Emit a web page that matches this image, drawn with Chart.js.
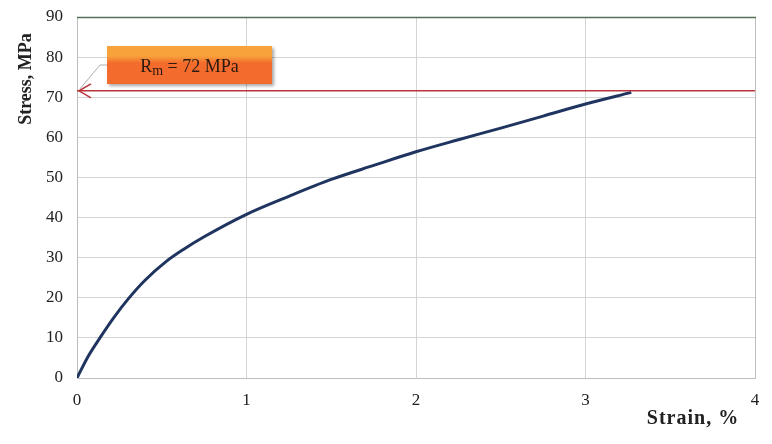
<!DOCTYPE html>
<html>
<head>
<meta charset="utf-8">
<script src="https://cdn.jsdelivr.net/npm/chart.js@4.4.1/dist/chart.umd.min.js"></script>
<style>
  html, body { margin: 0; padding: 0; background: #fff; }
  #wrap { width: 772px; height: 444px; position: relative; }
</style>
</head>
<body>
<div id="wrap"><canvas id="stressChart"></canvas></div>
<script>
// strain (%) and stress (MPa)
const strain = [0, 0.063, 0.14, 0.216, 0.3, 0.4, 0.525, 0.63, 0.75, 1.0, 1.25, 1.5, 1.75, 2.0, 2.25, 2.5, 2.75, 3.0, 3.27];
const stress = [0, 5.2, 10.3, 15, 19.6, 24.3, 29.0, 32.1, 35.2, 40.8, 45.3, 49.5, 53, 56.4, 59.4, 62.3, 65.3, 68.3, 71.2];
const xTicks = [0, 1, 2, 3, 4];
const yTicks = [0, 10, 20, 30, 40, 50, 60, 70, 80, 90];
const rmValue = 71.6;
const rmLabel = ['R', 'm', ' = 72 MPa'];
const xTitle = 'Strain, %';
const yTitle = 'Stress, MPa';

const serif = "'Liberation Serif', 'Times New Roman', serif";

const curve = strain.map((s, i) => ({ x: s, y: stress[i] }));
const rmLine = [{ x: xTicks[0], y: rmValue }, { x: xTicks[xTicks.length - 1], y: rmValue }];

// callout box, leader line and arrow for Rm
const rmNote = {
    id: 'rmNote',
    afterDatasetsDraw(chart) {
        const c = chart.ctx;
        const xs = chart.scales.x, ys = chart.scales.y;
        const tipX = xs.getPixelForValue(0) + 2;
        const tipY = ys.getPixelForValue(rmValue);
        const bx = xs.getPixelForValue(0) + 30, by = ys.getPixelForValue(90) + 29;
        const bw = 165, bh = 38;

        c.save();
        // leader
        c.strokeStyle = '#b0b0b0';
        c.lineWidth = 1;
        c.beginPath();
        c.moveTo(bx, by + 19);
        c.lineTo(bx - 7, by + 19);
        c.lineTo(tipX + 1, tipY - 2);
        c.stroke();

        // arrow head
        c.strokeStyle = '#b8353a';
        c.lineWidth = 1.5;
        c.beginPath();
        c.moveTo(tipX + 12, tipY - 7);
        c.lineTo(tipX, tipY);
        c.lineTo(tipX + 12, tipY + 7);
        c.stroke();

        // box
        c.shadowColor = 'rgba(0,0,0,0.35)';
        c.shadowBlur = 3;
        c.shadowOffsetX = 2;
        c.shadowOffsetY = 2;
        c.fillStyle = '#f36b2d';
        c.fillRect(bx, by, bw, bh);
        c.shadowColor = 'transparent';
        c.fillStyle = '#f8a23b';
        c.fillRect(bx, by, bw, 12);
        const g = c.createLinearGradient(0, by + 10, 0, by + 17);
        g.addColorStop(0, '#f8a23b');
        g.addColorStop(1, '#f36b2d');
        c.fillStyle = g;
        c.fillRect(bx, by + 10, bw, 7);

        // label text with subscript
        c.fillStyle = '#2a1a10';
        c.textBaseline = 'alphabetic';
        c.font = '18px ' + serif;
        const w0 = c.measureText(rmLabel[0]).width;
        c.font = '14px ' + serif;
        const w1 = c.measureText(rmLabel[1]).width;
        c.font = '18px ' + serif;
        const w2 = c.measureText(rmLabel[2]).width;
        let tx = bx + (bw - (w0 + w1 + w2)) / 2;
        const base = by + 26;
        c.fillText(rmLabel[0], tx, base);
        tx += w0;
        c.font = '14px ' + serif;
        c.fillText(rmLabel[1], tx, base + 3);
        tx += w1;
        c.font = '18px ' + serif;
        c.fillText(rmLabel[2], tx, base);
        c.restore();
    }
};

// axis titles, top and right frame lines
const frame = {
    id: 'frame',
    afterDraw(chart) {
        const a = chart.chartArea, c = chart.ctx;
        c.save();
        c.strokeStyle = '#bdbdbd';
        c.lineWidth = 1;
        c.beginPath();
        c.moveTo(a.right + 0.5, a.top);
        c.lineTo(a.right + 0.5, a.bottom);
        c.stroke();

        c.strokeStyle = '#56705a';
        c.lineWidth = 1.5;
        c.beginPath();
        c.moveTo(a.left, a.top + 0.5);
        c.lineTo(a.right + 1, a.top + 0.5);
        c.stroke();

        c.fillStyle = '#222';
        c.font = 'bold 20px ' + serif;
        c.textAlign = 'center';
        c.textBaseline = 'alphabetic';
        c.letterSpacing = '1px';
        c.fillText(xTitle, a.right - 62, a.bottom + 46);
        c.letterSpacing = '0px';

        c.font = 'bold 18px ' + serif;
        c.translate(31, a.top + 62);
        c.rotate(-Math.PI / 2);
        c.fillText(yTitle, 0, 0);
        c.restore();
    }
};

const ctx = document.getElementById('stressChart').getContext('2d');
const chart = new Chart(ctx, {
    type: 'scatter',
    data: {
        datasets: [{
            label: 'Rm',
            data: rmLine,
            showLine: true,
            borderColor: '#b8353a',
            borderWidth: 1.5,
            pointRadius: 0
        }, {
            label: 'Stress-strain',
            data: curve,
            showLine: true,
            borderColor: '#1f3560',
            borderWidth: 3,
            pointRadius: 0,
            cubicInterpolationMode: 'monotone'
        }]
    },
    options: {
        responsive: true,
        maintainAspectRatio: false,
        animation: false,
        layout: { padding: { top: 17, right: 17, left: 0, bottom: 0 } },
        plugins: {
            legend: { display: false },
            tooltip: { enabled: false }
        },
        scales: {
            x: {
                type: 'linear',
                min: 0,
                max: 4,
                afterBuildTicks: s => { s.ticks = xTicks.map(v => ({ value: v })); },
                afterFit: s => { s.height = 66; },
                grid: { color: '#d4d4d4', drawTicks: false },
                border: { color: '#bdbdbd' },
                ticks: { font: { family: serif, size: 17 }, color: '#222', padding: 12 }
            },
            y: {
                type: 'linear',
                min: 0,
                max: 90,
                afterBuildTicks: s => { s.ticks = yTicks.map(v => ({ value: v })); },
                afterFit: s => { s.width = 77; s.paddingTop = 0; s.paddingBottom = 0; },
                grid: { color: '#d4d4d4', drawTicks: false },
                border: { color: '#bdbdbd' },
                ticks: { font: { family: serif, size: 17 }, color: '#222', padding: 14 }
            }
        }
    },
    plugins: [rmNote, frame]
});
</script>
</body>
</html>
